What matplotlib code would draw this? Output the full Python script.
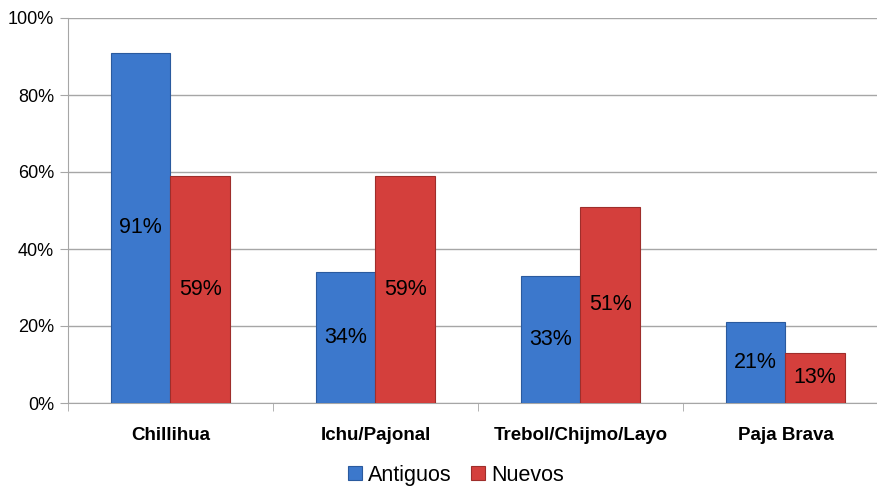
import matplotlib.pyplot as plt
import numpy as np
from matplotlib.ticker import FixedLocator, NullFormatter

plt.rcParams['font.family'] = ['Liberation Sans', 'DejaVu Sans']

categorias = ['Chillihua', 'Ichu/Pajonal', 'Trebol/Chijmo/Layo', 'Paja Brava']
antiguos = [91, 34, 33, 21]
nuevos = [59, 59, 51, 13]
yticks = [0, 20, 40, 60, 80, 100]

fig = plt.figure(figsize=(8.78, 4.87), dpi=100)
# axes reaches a bit past the right edge, like the original
ax = fig.add_axes([68/878, 84/487, 820/878, 385/487])

x = np.arange(len(categorias))
w = 0.29
b1 = ax.bar(x - w/2, antiguos, w, color='#3C78CC', edgecolor='#2A5A9E', linewidth=0.8,
            label='Antiguos', zorder=3)
b2 = ax.bar(x + w/2, nuevos, w, color='#D43F3C', edgecolor='#9E2E2B', linewidth=0.8,
            label='Nuevos', zorder=3)

for bars, vals in ((b1, antiguos), (b2, nuevos)):
    for r, v in zip(bars, vals):
        ax.text(r.get_x() + r.get_width()/2, v/2, f'{v}%', ha='center', va='center',
                fontsize=15.5, color='black', zorder=4)

ax.set_xlim(-0.5, 3.5)
ax.set_ylim(0, 100)
ax.set_yticks(yticks)
ax.set_yticklabels([f'{t}%' for t in yticks], fontsize=13)
ax.yaxis.grid(True, color='#A6A6A6', linewidth=1, zorder=0)

ax.set_xticks(x)
ax.set_xticklabels(categorias, fontsize=13.5, fontweight='bold')
ax.tick_params(axis='x', which='major', length=0, pad=17)
ax.xaxis.set_minor_locator(FixedLocator([-0.5, 0.5, 1.5, 2.5, 3.5]))
ax.xaxis.set_minor_formatter(NullFormatter())
ax.tick_params(axis='x', which='minor', length=6, color='#A6A6A6')
ax.tick_params(axis='y', length=6, color='#A6A6A6', pad=4)

for s in ('top', 'right'):
    ax.spines[s].set_visible(False)
for s in ('left', 'bottom'):
    ax.spines[s].set_color('#A6A6A6')

ax.legend(loc='upper center', bbox_to_anchor=((456 - 68)/820, -0.11), ncol=2, frameon=False,
          fontsize=15.5, handlelength=0.65, handleheight=0.65, handletextpad=0.3,
          columnspacing=0.9)

fig.savefig('out.png', dpi=100)
